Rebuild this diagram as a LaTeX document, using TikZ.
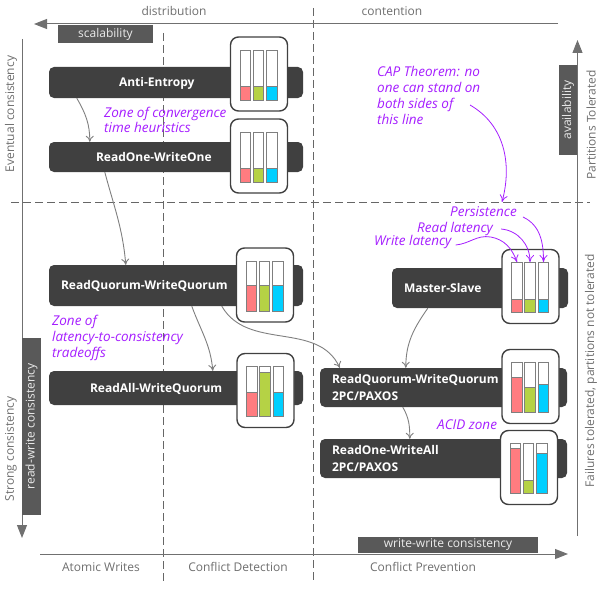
\documentclass[tikz,border=0pt]{standalone}
\usepackage{fontspec}
\setmainfont{Open Sans}
\usetikzlibrary{arrows.meta}
\definecolor{barcol}{HTML}{404040}
\definecolor{boxcol}{HTML}{595959}
\definecolor{axiscol}{HTML}{707070}
\definecolor{tubecol}{HTML}{7F7F7F}
\definecolor{txtcol}{HTML}{6E6E6E}
\definecolor{notecol}{HTML}{A51EFF}
\definecolor{latred}{HTML}{FF7C80}
\definecolor{latgreen}{HTML}{B5D245}
\definecolor{latblue}{HTML}{00CFFF}
\tikzset{
  bar/.style={fill=barcol, rounded corners=5pt, text=white, font=\fontsize{12}{17.5}\selectfont\bfseries, align=left, text width=#1pt, minimum width=#1pt, inner xsep=0pt, inner ysep=0pt},
  oneline/.style={text height=8pt, text depth=0pt},
  gaugeframe/.style={draw=barcol, fill=white, line width=1.4pt, rounded corners=8pt, minimum width=57pt, minimum height=74pt, inner sep=0pt},
  tube/.style={draw=tubecol, fill=white, line width=0.9pt, minimum width=10.5pt, minimum height=50pt, inner sep=0pt},
  level/.style={draw=tubecol, line width=0.9pt, minimum width=10.5pt, minimum height=#1pt, inner sep=0pt, anchor=south},
  tag/.style={fill=boxcol, text=white!92!black, font=\fontsize{12}{14}\selectfont, inner sep=0pt},
  axislabel/.style={text=txtcol, font=\fontsize{12}{14}\selectfont, inner sep=0pt},
  note/.style={text=notecol, font=\fontsize{13.5}{15.8}\selectfont\itshape, align=left, anchor=west, inner sep=0pt},
  axis/.style={draw=axiscol, line width=1pt, -{Triangle[length=13pt,width=10pt]}},
  divide/.style={draw=barcol!80, line width=0.7pt, dash pattern=on 8pt off 4pt},
  flow/.style={draw=tubecol, line width=0.9pt, -{To[length=6pt,width=8pt]}},
  noteflow/.style={draw=notecol, line width=0.8pt, -{To[length=7pt,width=8pt]}},
}
% name, centre x, centre y, three fill heights
\newcommand{\gaugebox}[6]{
  \node[gaugeframe] (#1) at (#2,#3) {};
  \node[tube] (#1a) at ([xshift=-13.5pt,yshift=-1pt]#1.center) {};
  \node[tube] (#1b) at ([xshift=-0.5pt,yshift=-1pt]#1.center) {};
  \node[tube] (#1c) at ([xshift=13pt,yshift=-1pt]#1.center) {};
  \node[level=#4, fill=latred] at (#1a.south) {};
  \node[level=#5, fill=latgreen] at (#1b.south) {};
  \node[level=#6, fill=latblue] at (#1c.south) {};
}

\begin{document}
\begin{tikzpicture}[x=1pt,y=-1pt]
  \useasboundingbox (0,0) rectangle (608,594);

  % Dividing lines
  \coordinate (dl) at (11,202);
  \coordinate (dr) at (590,202);
  \coordinate (d1t) at (163,33);
  \coordinate (d1b) at (163,584);
  \coordinate (d2t) at (313,8);
  \coordinate (d2b) at (313,583);
  \draw[divide] (dl) -- (dr);
  \draw[divide] (d1t) -- (d1b);
  \draw[divide] (d2t) -- (d2b);

  % Axes
  \coordinate (topr) at (558,24);
  \coordinate (topl) at (34,24);
  \coordinate (leftt) at (22,39);
  \coordinate (leftb) at (22,538);
  \coordinate (rightb) at (577.5,536);
  \coordinate (rightt) at (577.5,40);
  \coordinate (botl) at (40,554);
  \coordinate (botr) at (568,554);
  \draw[axis] (topr) -- (topl);
  \draw[axis] (leftt) -- (leftb);
  \draw[axis] (rightb) -- (rightt);
  \draw[axis] (botl) -- (botr);

  \node[tag, minimum width=95pt, minimum height=18pt] (scal) at (105.5,34) {scalability};
  \node[tag, minimum width=177pt, minimum height=19pt, rotate=90] (rwc) at (31.5,426.5) {read-write consistency};
  \node[tag, minimum width=90pt, minimum height=18pt, rotate=90] (avail) at (568,110) {availability};
  \node[tag, minimum width=180pt, minimum height=16pt] (wwc) at (448,545) {write-write consistency};

  \node[axislabel] (dist) at (174,11) {distribution};
  \node[axislabel] (cont) at (392,11) {contention};
  \node[axislabel] (atomic) at (101,567) {Atomic Writes};
  \node[axislabel] (detect) at (238,567) {Conflict Detection};
  \node[axislabel] (prevent) at (423,567) {Conflict Prevention};
  \node[axislabel, rotate=90] (evc) at (11,114) {Eventual consistency};
  \node[axislabel, rotate=90] (stc) at (11,449) {Strong consistency};
  \node[axislabel, rotate=90] (part) at (591,125) {Partitions Tolerated};
  \node[axislabel, rotate=90] (fail) at (591,371) {Failures tolerated, partitions not tolerated};

  % Define nodes
  \node[bar=254, oneline, minimum height=31pt] (ae) at (176,82.5) {\hspace*{70pt}Anti-Entropy};
  \node[bar=254, oneline, minimum height=30pt] (rowo) at (176,157) {\hspace*{47pt}ReadOne-WriteOne};
  \node[bar=254, oneline, minimum height=41pt] (rqwq) at (176,285.5) {\hspace*{12pt}ReadQuorum-WriteQuorum};
  \node[bar=254, oneline, minimum height=34pt] (rawq) at (176,388) {\hspace*{41pt}ReadAll-WriteQuorum};
  \node[bar=176, oneline, minimum height=40pt] (ms) at (480,288) {\hspace*{12pt}Master-Slave};
  \node[bar=247, minimum height=39pt] (rq2pc) at (443.5,387.5) {\hspace*{12pt}ReadQuorum-WriteQuorum\\\hspace*{12pt}2PC/PAXOS};
  \node[bar=247, minimum height=39pt] (ro2pc) at (443.5,458.5) {\hspace*{12pt}ReadOne-WriteAll\\\hspace*{12pt}2PC/PAXOS};

  \gaugebox{gae}{259}{74}{14}{14}{14}
  \gaugebox{growo}{259}{156}{14}{14}{14}
  \gaugebox{grqwq}{265}{285}{26}{26}{26}
  \gaugebox{grawq}{265.5}{390.5}{24}{44}{24}
  \gaugebox{gms}{530.5}{286.5}{13}{13}{13}
  \gaugebox{grq2pc}{530.5}{386.5}{35}{25}{28}
  \gaugebox{gro2pc}{529}{467.5}{45}{13}{40}

  % Notes
  \node[note] (nconv) at (104,120) {Zone of convergence\\time heuristics};
  \node[note] (ncap) at (377,95.5) {CAP Theorem: no\\one can stand on\\both sides of\\this line};
  \node[note] (nzone) at (52,338) {Zone of\\latency-to-consistency\\tradeoffs};
  \node[note] (nacid) at (437,425) {ACID zone};
  \node[note] (npers) at (450,212) {Persistence};
  \node[note] (nread) at (417,229) {Read latency};
  \node[note] (nwrite) at (374,242) {Write latency};

  % Connect the nodes
  \draw[flow] ([xshift=28pt]ae.south west) to[out=-60,in=90] ([xshift=41pt]rowo.north west);
  \draw[flow] ([xshift=56pt]rowo.south west) to[out=-75,in=95] ([xshift=77pt]rqwq.north west);
  \draw[flow] ([xshift=143pt]rqwq.south west) to[out=-70,in=95] ([xshift=164pt]rawq.north west);
  \draw[flow] ([xshift=173pt]rqwq.south west) to[out=-60,in=115] ([xshift=20pt]rq2pc.north west);
  \draw[flow] ([xshift=36pt]ms.south west) to[out=-125,in=90] ([xshift=86pt]rq2pc.north west);
  \draw[flow] ([xshift=83pt]rq2pc.south west) to[out=-60,in=90] ([xshift=90pt]ro2pc.north west);

  \coordinate (capstart) at (470,105);
  \coordinate (capend) at (502,202);
  \draw[noteflow] (capstart) to[out=-30,in=75] (capend);
  \draw[noteflow] ([xshift=4pt,yshift=-3pt]nwrite.east) to[out=5,in=170] ++(35pt,8pt) to[out=-10,in=110] (gmsa.north);
  \draw[noteflow] ([xshift=8pt]nread.east) to[out=-5,in=90] (gmsb.north);
  \draw[noteflow] ([xshift=6pt,yshift=-5pt]npers.east) to[out=-25,in=90] (gmsc.north);
\end{tikzpicture}
\end{document}
